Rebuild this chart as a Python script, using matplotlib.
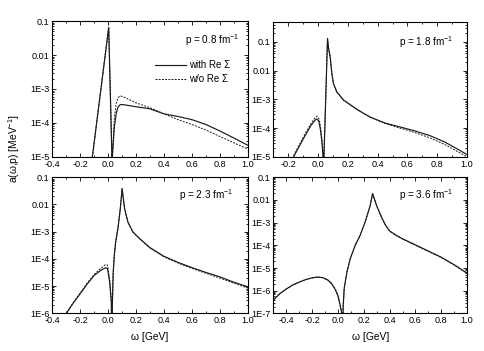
import numpy as np
import matplotlib
matplotlib.use("Agg")
import matplotlib.pyplot as plt
from matplotlib.ticker import MultipleLocator, LogLocator, FuncFormatter, NullFormatter

plt.rcParams["font.family"] = ["Liberation Sans", "DejaVu Sans"]
plt.rcParams["mathtext.default"] = "regular"

# ---- data (omega in GeV, a in MeV^-1) ----
# p = 0.8 fm^-1
w1 = [-0.113, 0.004, 0.027, 0.028, 0.030, 0.045, 0.058, 0.07, 0.087, 0.12, 0.2, 0.3,
      0.4, 0.5, 0.6, 0.7, 0.8, 0.9, 1.0]
a1_with = [1e-5, 0.065, 1e-5, 1e-7, 1e-5, 8e-5, 1.9e-4, 2.9e-4, 3.5e-4, 3.4e-4, 3.0e-4, 2.6e-4,
           1.85e-4, 1.55e-4, 1.25e-4, 9e-5, 5.8e-5, 3.6e-5, 2.2e-5]
a1_wo = [1e-5, 0.065, 1e-5, 1e-7, 1e-5, 1.5e-4, 3.8e-4, 5.5e-4, 6.3e-4, 5.6e-4, 3.9e-4, 2.8e-4,
         1.85e-4, 1.25e-4, 9e-5, 6.2e-5, 4e-5, 2.6e-5, 1.7e-5]

# p = 1.8 fm^-1
w2 = [-0.165, -0.1, -0.05, -0.02, -0.008, 0.005, 0.015, 0.025, 0.033, 0.036, 0.039, 0.063,
      0.07, 0.081, 0.092, 0.103, 0.126, 0.17, 0.26, 0.35, 0.45, 0.55, 0.65, 0.75, 0.85, 0.95, 1.0]
a2_with = [1e-5, 4.2e-5, 1.2e-4, 1.9e-4, 2.1e-4, 1.7e-4, 9e-5, 3.5e-5, 1e-5, 1e-7, 1e-5, 0.13,
           0.06, 0.03, 8e-3, 3.5e-3, 1.8e-3, 9.5e-4, 4.5e-4, 2.4e-4, 1.5e-4, 1.1e-4, 8e-5, 5.5e-5,
           3.3e-5, 1.7e-5, 1.2e-5]
a2_wo = [1.1e-5, 4.8e-5, 1.4e-4, 2.3e-4, 2.6e-4, 2.2e-4, 1.2e-4, 4.5e-5, 1.2e-5, 1e-7, 1e-5, 0.13,
         0.06, 0.03, 8e-3, 3.5e-3, 1.8e-3, 9.5e-4, 4.5e-4, 2.4e-4, 1.45e-4, 1.0e-4, 7e-5, 4.6e-5,
         2.7e-5, 1.4e-5, 1.0e-5]

# p = 2.3 fm^-1
w3 = [-0.3, -0.25, -0.2, -0.15, -0.1, -0.05, -0.02, -0.005, 0.011, 0.023, 0.027, 0.03, 0.036,
      0.045, 0.054, 0.07, 0.087, 0.1, 0.118, 0.141, 0.177, 0.225, 0.3, 0.4, 0.5, 0.6, 0.7, 0.8,
      0.9, 1.0]
a3_with = [1e-6, 2.4e-6, 5.3e-6, 1.2e-5, 2.5e-5, 3.9e-5, 4.7e-5, 4.5e-5, 1.4e-5, 2.6e-6, 1e-8,
           2e-6, 3e-5, 1.5e-4, 4.2e-4, 1.3e-3, 7e-3, 0.038, 7e-3, 2.3e-3, 9.8e-4, 5.6e-4, 2.6e-4,
           1.25e-4, 7.5e-5, 4.8e-5, 3.2e-5, 2.2e-5, 1.4e-5, 9.5e-6]
a3_wo = [1e-6, 2.5e-6, 5.6e-6, 1.3e-5, 2.7e-5, 4.6e-5, 6.2e-5, 6e-5, 1.8e-5, 3e-6, 1e-8,
         2e-6, 3e-5, 1.5e-4, 4.2e-4, 1.3e-3, 7e-3, 0.038, 7e-3, 2.3e-3, 9.8e-4, 5.6e-4, 2.5e-4,
         1.2e-4, 7.1e-5, 4.5e-5, 3e-5, 2e-5, 1.3e-5, 8.5e-6]

# p = 3.6 fm^-1
w4 = [-0.5, -0.45, -0.4, -0.35, -0.3, -0.25, -0.2, -0.16, -0.12, -0.08, -0.05, -0.02, 0.0,
      0.015, 0.03, 0.034, 0.04, 0.048, 0.069, 0.095, 0.133, 0.172, 0.211, 0.25, 0.268, 0.3,
      0.34, 0.37, 0.4, 0.45, 0.5, 0.6, 0.7, 0.8, 0.9, 1.0]
a4_with = [4e-7, 7.5e-7, 1.2e-6, 1.8e-6, 2.4e-6, 3.1e-6, 3.7e-6, 4e-6, 3.8e-6, 3e-6, 2.1e-6,
           1.1e-6, 6e-7, 2.5e-7, 1e-7, 1e-9, 2e-7, 1.25e-6, 6.6e-6, 2.6e-5, 1e-4, 2.8e-4, 1.1e-3,
           5.8e-3, 0.019, 5.5e-3, 1.6e-3, 7.5e-4, 4.3e-4, 2.8e-4, 1.95e-4, 1.05e-4, 5.6e-5, 3e-5,
           1.4e-5, 6e-6]
a4_wo = [4e-7, 7.5e-7, 1.2e-6, 1.8e-6, 2.4e-6, 3.1e-6, 3.7e-6, 4e-6, 3.8e-6, 3e-6, 2.1e-6,
         1.1e-6, 6e-7, 2.5e-7, 1e-7, 1e-9, 2e-7, 1.25e-6, 6.6e-6, 2.6e-5, 1e-4, 2.8e-4, 1.1e-3,
         5.8e-3, 0.019, 5.5e-3, 1.6e-3, 7.4e-4, 4.2e-4, 2.7e-4, 1.9e-4, 1.0e-4, 5.4e-5, 2.9e-5,
         1.35e-5, 5.8e-6]

panels = [
    (w1, a1_with, a1_wo, "0.8", (-0.4, 1.0), (1e-5, 0.1)),
    (w2, a2_with, a2_wo, "1.8", (-0.3, 1.0), (1e-5, 0.5)),
    (w3, a3_with, a3_wo, "2.3", (-0.4, 1.0), (1e-6, 0.1)),
    (w4, a4_with, a4_wo, "3.6", (-0.5, 1.0), (1e-7, 0.1)),
]

rects = [(0.108, 0.553, 0.404, 0.387), (0.565, 0.553, 0.400, 0.385),
         (0.108, 0.107, 0.404, 0.388), (0.565, 0.107, 0.400, 0.388)]
txt_pos = [(0.96, 0.86), (0.93, 0.85), (0.925, 0.87), (0.93, 0.87)]


def yfmt(v, _):
    e = int(round(np.log10(v)))
    if e >= -2:
        return "%g" % (10.0 ** e)
    return "1E%d" % e


def xfmt(v, _):
    v = round(v, 1)
    return "%.1f" % (0.0 if v == 0 else v)


fig = plt.figure(figsize=(4.84, 3.51), dpi=100)
axes = []
for (w, aw, ao, p, xl, yl), r, tp in zip(panels, rects, txt_pos):
    ax = fig.add_axes(r)
    ax.plot(w, aw, color="#1a1a1a", lw=0.85, label=u"with Re \u03a3")
    ax.plot(w, ao, color="#1a1a1a", lw=0.7, dashes=(2.0, 1.3), label=u"w/o Re \u03a3")
    ax.set_yscale("log")
    ax.set_xlim(*xl)
    ax.set_ylim(*yl)
    ax.xaxis.set_major_locator(MultipleLocator(0.2))
    ax.xaxis.set_minor_locator(MultipleLocator(0.1))
    ax.xaxis.set_major_formatter(FuncFormatter(xfmt))
    ax.yaxis.set_major_locator(LogLocator(base=10, numticks=20))
    ax.yaxis.set_minor_locator(LogLocator(base=10, subs=np.arange(2, 10), numticks=20))
    ax.yaxis.set_major_formatter(FuncFormatter(yfmt))
    ax.yaxis.set_minor_formatter(NullFormatter())
    ax.tick_params(which="both", direction="in", top=True, right=True, labelsize=6.6,
                   width=0.6, pad=2)
    ax.tick_params(which="major", length=3)
    ax.tick_params(which="minor", length=1.6)
    for s in ax.spines.values():
        s.set_linewidth(0.8)
    ax.text(tp[0], tp[1], "p = %s fm$^{-1}$" % p, transform=ax.transAxes,
            ha="right", va="center", fontsize=7.2)
    axes.append(ax)

axes[0].legend(loc="upper left", bbox_to_anchor=(0.49, 0.76), frameon=False, fontsize=7,
               handlelength=3.2, handletextpad=0.3, labelspacing=0.4, borderpad=0.2)

for ax in axes[2:]:
    ax.set_xlabel(u"\u03c9 [GeV]", fontsize=7.4, labelpad=5)

fig.text(0.03, 0.575, u"a(\u03c9,p) [MeV$^{-1}$]", rotation=90, ha="center", va="center",
         fontsize=7.4)

fig.savefig("out.png", dpi=100)
